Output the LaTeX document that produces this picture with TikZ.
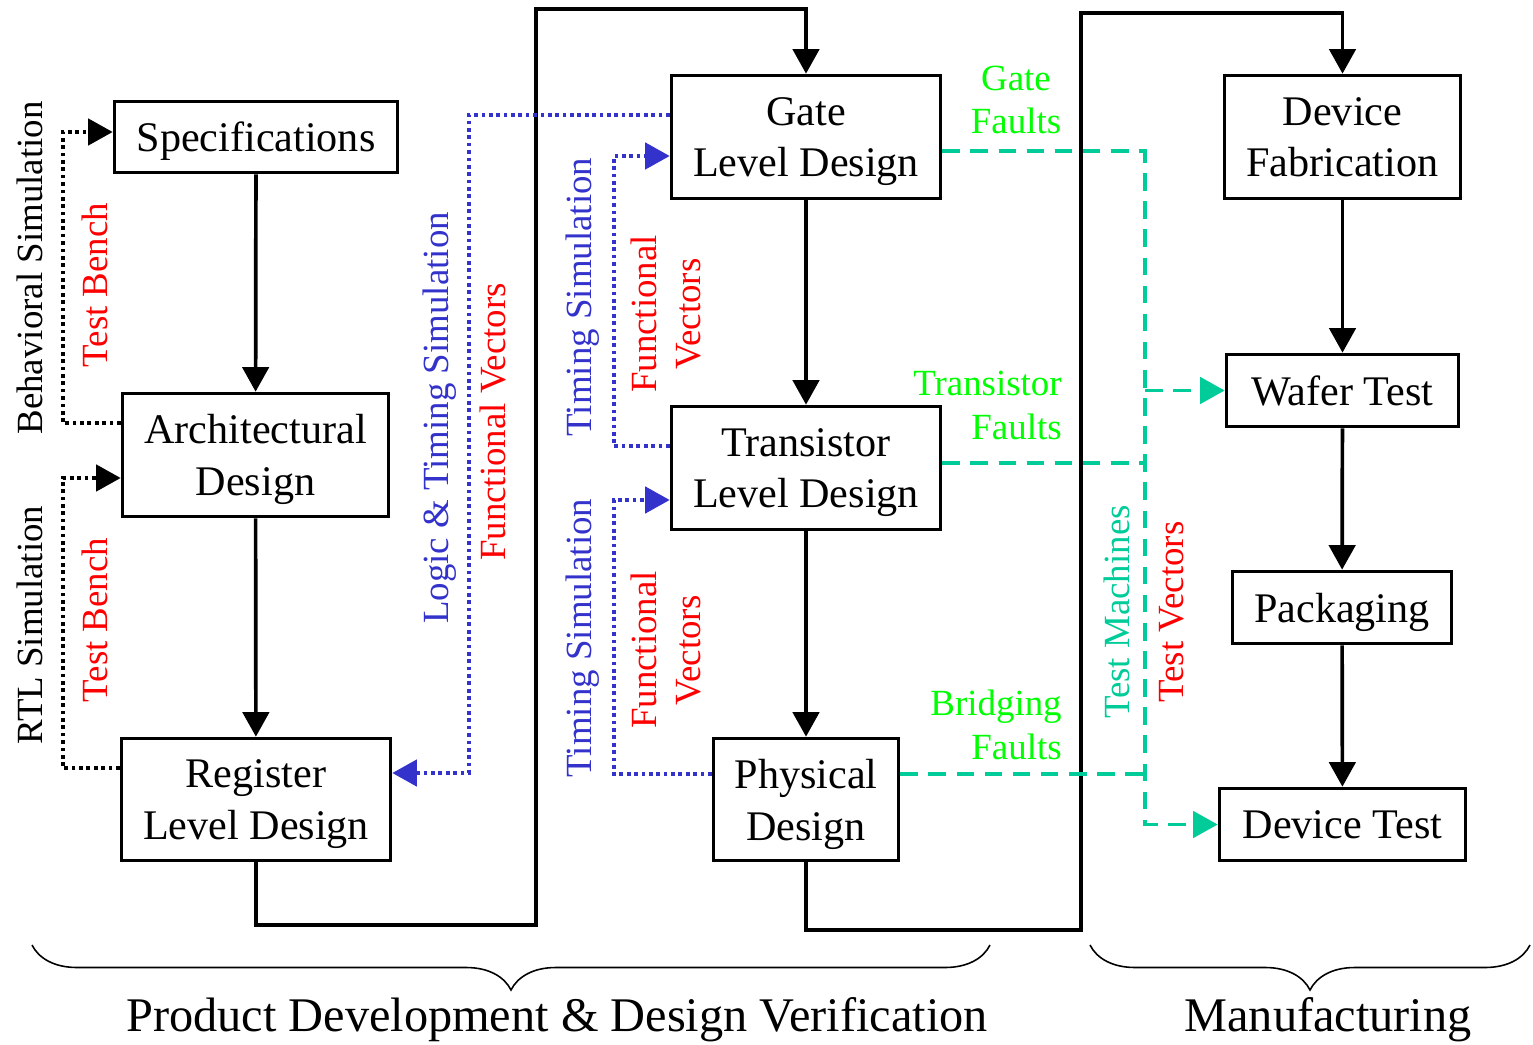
\documentclass[tikz,border=0pt]{standalone}
\usepackage{fontspec}
\setmainfont{Liberation Serif}
\usetikzlibrary{arrows.meta,decorations.pathreplacing}
\definecolor{simblue}{HTML}{3333CC}
\definecolor{vecred}{HTML}{FF0000}
\definecolor{faultgreen}{HTML}{00FF00}
\definecolor{testteal}{HTML}{00CC99}
\tikzset{
  stagenode/.style={
    draw, line width=2.1pt, align=center, inner sep=0pt, text depth=0pt,
    font=\fontsize{24}{29.5}\selectfont
  },
  stagearrow/.style={-{Triangle[length=14pt,width=15pt]}, line width=2.1pt},
  simdot/.style={stagearrow, dash pattern=on 2.1pt off 2.1pt},
  timingdot/.style={simdot, color=simblue},
  faultdash/.style={line width=2.1pt, color=testteal, dash pattern=on 10pt off 6pt},
  faultarrow/.style={faultdash, -{Triangle[length=14pt,width=15pt]}},
  sidelabel/.style={rotate=90, align=center, inner sep=0pt, font=\fontsize{21}{25}\selectfont},
  faultlabel/.style={align=right, inner sep=0pt, text=faultgreen, font=\fontsize{21}{25}\selectfont},
  groupbrace/.style={decorate, decoration={brace, mirror, amplitude=0.9cm}, line width=0.9pt},
  grouplabel/.style={inner sep=0pt, font=\fontsize{27.5}{32}\selectfont},
}

\begin{document}
\begin{tikzpicture}[x=0.02cm, y=-0.02cm]
  \useasboundingbox (0,0) rectangle (1533,1044);

  % design flow
  \node[stagenode, minimum width=5.66cm, minimum height=1.42cm] (spec) at (256,137) {Specifications};
  \node[stagenode, minimum width=5.32cm, minimum height=2.46cm] (arch) at (255.5,455) {Architectural\\Design};
  \node[stagenode, minimum width=5.38cm, minimum height=2.44cm] (reg) at (256,799.5) {Register\\Level Design};
  \node[stagenode, minimum width=5.38cm, minimum height=2.46cm] (gate) at (806,137) {Gate\\Level Design};
  \node[stagenode, minimum width=5.38cm, minimum height=2.46cm] (trans) at (806,468) {Transistor\\Level Design};
  \node[stagenode, minimum width=3.70cm, minimum height=2.44cm] (phys) at (806,799.5) {Physical\\Design};

  % manufacturing
  \node[stagenode, minimum width=4.72cm, minimum height=2.46cm] (fab) at (1342.5,137) {Device\\Fabrication};
  \node[stagenode, minimum width=4.64cm, minimum height=1.44cm] (wafer) at (1342.5,390.5) {Wafer Test};
  \node[stagenode, minimum width=4.38cm, minimum height=1.44cm] (pack) at (1342,607.5) {Packaging};
  \node[stagenode, minimum width=4.92cm, minimum height=1.44cm] (dtest) at (1342.5,824.5) {Device Test};

  \coordinate (regdown) at (536,925);
  \coordinate (regup) at (536,9);
  \coordinate (physdown) at (1081,930);
  \coordinate (physup) at (1081,13);
  \coordinate (bus) at (1145,0);

  \draw[stagearrow] (spec) -- (arch);
  \draw[stagearrow] (arch) -- (reg);
  \draw[stagearrow] (reg.south) |- (regdown) -- (regup) -| (gate.north);
  \draw[stagearrow] (gate) -- (trans);
  \draw[stagearrow] (trans) -- (phys);
  \draw[stagearrow] (phys.south) |- (physdown) -- (physup) -| (fab.north);
  \draw[stagearrow] (fab) -- (wafer);
  \draw[stagearrow] (wafer) -- (pack);
  \draw[stagearrow] (pack) -- (dtest);

  % simulation loops
  \draw[simdot] ([yshift=0.64cm]arch.west) -- ++(-1.16cm,0) |- ([yshift=0.1cm]spec.west);
  \draw[simdot] ([yshift=0.63cm]reg.west) -- ++(-1.14cm,0) |- ([yshift=-0.46cm]arch.west);
  \draw[timingdot] ([yshift=0.44cm]gate.west) -- ++(-4.02cm,0) |- ([yshift=0.53cm]reg.east);
  \draw[timingdot] ([yshift=0.44cm]trans.west) -- ++(-1.12cm,0) |- ([yshift=-0.38cm]gate.west);
  \draw[timingdot] ([yshift=0.51cm]phys.west) -- ++(-1.96cm,0) |- ([yshift=-0.64cm]trans.west);

  % fault models to test
  \draw[faultarrow] ([yshift=-0.28cm]gate.east) -| (bus |- dtest.west) -- (dtest.west);
  \draw[faultdash] ([yshift=0.1cm]trans.east) -- ++(4.06cm,0);
  \draw[faultdash] ([yshift=0.51cm]phys.east) -- ++(4.9cm,0);
  \draw[faultarrow] (bus |- wafer.west) -- (wafer.west);

  \node[sidelabel] (behsim) at (30,268) {Behavioral Simulation};
  \node[sidelabel] (rtlsim) at (30,625) {RTL Simulation};
  \node[sidelabel, text=vecred] (bench1) at (95,285) {Test Bench};
  \node[sidelabel, text=vecred] (bench2) at (95,620) {Test Bench};
  \node[sidelabel, text=simblue] (logicsim) at (440,418) {Logic \& Timing Simulation};
  \node[sidelabel, text=vecred] (funcvec) at (493,422) {Functional Vectors};
  \node[sidelabel, text=simblue] (gatesim) at (583,297) {Timing Simulation};
  \node[sidelabel, text=vecred] (gatevec) at (666,314) {Functional\\Vectors};
  \node[sidelabel, text=simblue] (transsim) at (583,638) {Timing Simulation};
  \node[sidelabel, text=vecred] (transvec) at (666,650) {Functional\\Vectors};
  \node[faultlabel, align=center] (gatefault) at (1016,100) {Gate\\Faults};
  \node[faultlabel, anchor=east] (transfault) at (1062,405) {Transistor\\Faults};
  \node[faultlabel, anchor=east] (bridgefault) at (1062,725) {Bridging\\Faults};
  \node[sidelabel, text=testteal] (machines) at (1117,612) {Test Machines};
  \node[sidelabel, text=vecred] (testvec) at (1172,612) {Test Vectors};

  % phases
  \draw[groupbrace] (32,945) -- (990,945);
  \draw[groupbrace] (1090,945) -- (1530,945);
  \node[grouplabel] (devphase) at (557,1020) {Product Development \& Design Verification};
  \node[grouplabel] (mfgphase) at (1328,1020) {Manufacturing};
\end{tikzpicture}
\end{document}
